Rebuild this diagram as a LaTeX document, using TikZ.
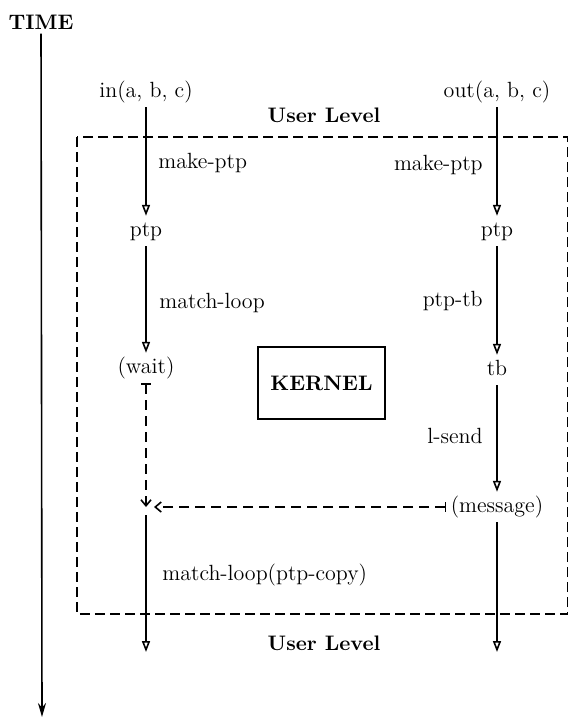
\documentclass[tikz,border=0pt]{standalone}
\usepackage{tikz}
\usetikzlibrary{arrows.meta,positioning}

\tikzset{
  flow/.style={line width=0.8pt,-{Triangle[open,width=4pt,length=5.5pt]}},
  signal/.style={line width=0.8pt,dash pattern=on 5pt off 3pt,
                 {Bar[width=5pt]}-{Straight Barb[length=3pt,width=5pt]}},
  level/.style={line width=0.8pt,dash pattern=on 5pt off 2.5pt},
  lbl/.style={inner sep=2pt,text height=8pt,text depth=2.8pt,
              font=\fontsize{11}{13}\selectfont},
  hdr/.style={inner sep=2pt,font=\fontsize{10.5}{12}\selectfont\bfseries},
}

\begin{document}
\begin{tikzpicture}[x=0.5pt,y=-0.5pt]
\useasboundingbox (0,0) rectangle (568,719);

% time axis
\node[hdr] (time) at (41,22) {TIME};
\coordinate (tEnd) at (42,717);
\draw[line width=0.8pt,-{Stealth[width=4pt,length=7pt]}] (time) -- (tEnd);

% user level boundary and the kernel
\draw[level] (77,137) rectangle (568,614);
\node[hdr] (userTop) at (324,115) {User Level};
\node[hdr] (userBot) at (324,643) {User Level};
\node[draw,line width=0.8pt,minimum width=63.5pt,minimum height=36pt,
      font=\fontsize{10.5}{12}\selectfont\bfseries] (kernel) at (321.5,383) {KERNEL};

% in() side
\node[lbl] (in)   at (146,92)  {in(a, b, c)};
\node[lbl] (ptpL) at (146,231) {ptp};
\node[lbl] (wait) at (146,368) {(wait)};
\coordinate (join) at (wait |- 0,507);
\coordinate (endL) at (146,652);

% out() side
\node[lbl] (out)  at (497,92)  {out(a, b, c)};
\node[lbl] (ptpR) at (497,231) {ptp};
\node[lbl] (tb)   at (497,370) {tb};
\node[lbl] (msg)  at (497,507) {(message)};
\coordinate (endR) at (497,652);

% call steps
\node[lbl,anchor=west] (mkL)   at (154,163) {make-ptp};
\node[lbl,anchor=west] (loopL) at (155,303) {match-loop};
\node[lbl,anchor=west] (copyL) at (158,575) {match-loop(ptp-copy)};
\node[lbl,anchor=east] (mkR)   at (487,165) {make-ptp};
\node[lbl,anchor=east] (ptbR)  at (487,301) {ptp-tb};
\node[lbl,anchor=east] (sndR)  at (487,438) {l-send};

\draw[flow] (in) -- (ptpL);
\draw[flow] (ptpL) -- (wait);
\draw[signal] (wait) -- (join);
\draw[signal,shorten >=4pt] (msg) -- (join);
\draw[flow,shorten <=4pt] (join) -- (endL);

\draw[flow] (out) -- (ptpR);
\draw[flow] (ptpR) -- (tb);
\draw[flow] (tb) -- (msg);
\draw[flow] (msg) -- (endR);
\end{tikzpicture}
\end{document}
